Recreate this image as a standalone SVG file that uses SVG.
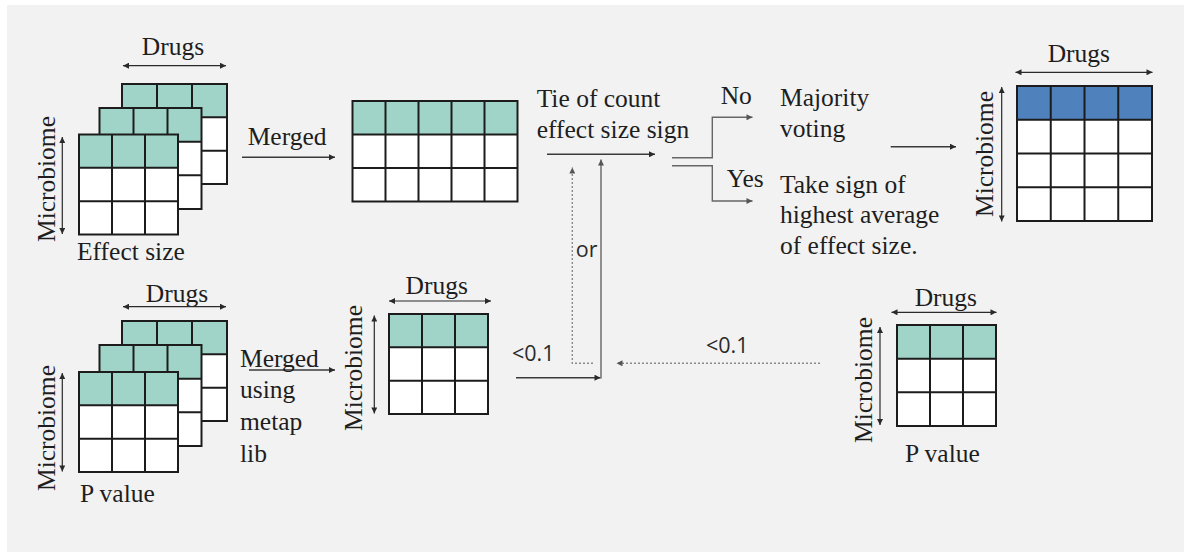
<svg xmlns="http://www.w3.org/2000/svg" width="1184" height="552" viewBox="0 0 1184 552">
  <defs>
    <marker id="tip" viewBox="0 0 10 10" refX="10" refY="5" markerWidth="8" markerHeight="6" markerUnits="userSpaceOnUse" orient="auto-start-reverse">
      <path d="M0,0 L10,5 L0,10 z" fill="#2a2a2a"/>
    </marker>
    <marker id="tipGray" viewBox="0 0 10 10" refX="10" refY="5" markerWidth="8" markerHeight="6" markerUnits="userSpaceOnUse" orient="auto-start-reverse">
      <path d="M0,0 L10,5 L0,10 z" fill="#555"/>
    </marker>
  </defs>
  <style>
    .serif { font-family: "Liberation Serif", "Times New Roman", serif; font-size: 25.5px; fill: #1e1e1e; }
    .sans { font-family: "Open Sans", "Liberation Sans", sans-serif; font-size: 21.5px; fill: #2a2a2a; }
    .head { fill: #a0d4c8; }
    .headBlue { fill: #4f81bd; }
    .body { fill: #ffffff; }
    .grid { fill: none; stroke: #1c1c1c; stroke-width: 2; }
    .axis { fill: none; stroke: #2a2a2a; stroke-width: 1.2; marker-start: url(#tip); marker-end: url(#tip); }
    .flow { fill: none; stroke: #3a3a3a; stroke-width: 1.4; }
    .branch { fill: none; stroke: #666; stroke-width: 1.4; }
    .dotted { fill: none; stroke: #8a8a8a; stroke-width: 1.4; stroke-dasharray: 2 2; }
  </style>

  <rect x="0" y="0" width="1184" height="552" fill="#ffffff"/>
  <rect x="7" y="5" width="1177" height="547" fill="#f2f2f2"/>

  <!-- effect size stack -->
  <g id="effect-stack">
    <g>
      <rect class="head" x="122" y="84" width="105" height="33.3"/>
      <rect class="body" x="122" y="117.3" width="105" height="66.7"/>
      <path class="grid" d="M157,84V184M192,84V184M122,117.3H227M122,150.7H227"/>
      <rect class="grid" x="122" y="84" width="105" height="100"/>
    </g>
    <g>
      <rect class="head" x="99.5" y="108" width="102" height="33.7"/>
      <rect class="body" x="99.5" y="141.7" width="102" height="67.3"/>
      <path class="grid" d="M133.5,108V209M167.5,108V209M99.5,141.7H201.5M99.5,175.3H201.5"/>
      <rect class="grid" x="99.5" y="108" width="102" height="101"/>
    </g>
    <g>
      <rect class="head" x="79" y="134.5" width="99" height="33.3"/>
      <rect class="body" x="79" y="167.8" width="99" height="66.7"/>
      <path class="grid" d="M112,134.5V234.5M145,134.5V234.5M79,167.8H178M79,201.2H178"/>
      <rect class="grid" x="79" y="134.5" width="99" height="100"/>
    </g>
    <text class="serif" x="173" y="55" text-anchor="middle">Drugs</text>
    <path class="axis" d="M123,65.7H226"/>
    <text class="serif" transform="translate(55,179) rotate(-90)" text-anchor="middle">Microbiome</text>
    <path class="axis" d="M62.3,137V234"/>
    <text class="serif" x="77" y="260">Effect size</text>
  </g>

  <!-- p value stack -->
  <g id="pvalue-stack">
    <g>
      <rect class="head" x="122" y="321" width="105" height="33.3"/>
      <rect class="body" x="122" y="354.3" width="105" height="66.7"/>
      <path class="grid" d="M157,321V421M192,321V421M122,354.3H227M122,387.7H227"/>
      <rect class="grid" x="122" y="321" width="105" height="100"/>
    </g>
    <g>
      <rect class="head" x="99.5" y="345" width="102" height="33.7"/>
      <rect class="body" x="99.5" y="378.7" width="102" height="67.3"/>
      <path class="grid" d="M133.5,345V446M167.5,345V446M99.5,378.7H201.5M99.5,412.3H201.5"/>
      <rect class="grid" x="99.5" y="345" width="102" height="101"/>
    </g>
    <g>
      <rect class="head" x="79" y="372" width="99" height="33.3"/>
      <rect class="body" x="79" y="405.3" width="99" height="66.7"/>
      <path class="grid" d="M112,372V472M145,372V472M79,405.3H178M79,438.7H178"/>
      <rect class="grid" x="79" y="372" width="99" height="100"/>
    </g>
    <text class="serif" x="177" y="301.7" text-anchor="middle">Drugs</text>
    <path class="axis" d="M123,306.7H226"/>
    <text class="serif" transform="translate(55,428) rotate(-90)" text-anchor="middle">Microbiome</text>
    <path class="axis" d="M62.3,373V471.5"/>
    <text class="serif" x="80" y="501.7">P value</text>
  </g>

  <!-- merged effect size table -->
  <g id="merged-effect">
    <rect class="head" x="352.5" y="101" width="165" height="33.5"/>
    <rect class="body" x="352.5" y="134.5" width="165" height="67"/>
    <path class="grid" d="M385.5,101V201.5M418.5,101V201.5M451.5,101V201.5M484.5,101V201.5M352.5,134.5H517.5M352.5,168H517.5"/>
    <rect class="grid" x="352.5" y="101" width="165" height="100.5"/>
  </g>

  <!-- merged p value table -->
  <g id="merged-pvalue">
    <rect class="head" x="389" y="314" width="99" height="33.3"/>
    <rect class="body" x="389" y="347.3" width="99" height="66.7"/>
    <path class="grid" d="M422,314V414M455,314V414M389,347.3H488M389,380.7H488"/>
    <rect class="grid" x="389" y="314" width="99" height="100"/>
    <text class="serif" x="436.7" y="294" text-anchor="middle">Drugs</text>
    <path class="axis" d="M389,301H491"/>
    <text class="serif" transform="translate(362,368) rotate(-90)" text-anchor="middle">Microbiome</text>
    <path class="axis" d="M374.3,315.5V413.5"/>
  </g>

  <!-- single p value table -->
  <g id="pvalue-single">
    <rect class="head" x="897" y="325" width="99" height="33.7"/>
    <rect class="body" x="897" y="358.7" width="99" height="67.3"/>
    <path class="grid" d="M930,325V426M963,325V426M897,358.7H996M897,392.3H996"/>
    <rect class="grid" x="897" y="325" width="99" height="101"/>
    <text class="serif" x="945.8" y="306" text-anchor="middle">Drugs</text>
    <path class="axis" d="M891.5,312.3H996.5"/>
    <text class="serif" transform="translate(872,380) rotate(-90)" text-anchor="middle">Microbiome</text>
    <path class="axis" d="M880,327V425"/>
    <text class="serif" x="905" y="461.7">P value</text>
  </g>

  <!-- result table -->
  <g id="result">
    <rect class="headBlue" x="1017" y="86" width="135" height="33.75"/>
    <rect class="body" x="1017" y="119.75" width="135" height="101.25"/>
    <path class="grid" d="M1050.75,86V221M1084.5,86V221M1118.25,86V221M1017,119.75H1152M1017,153.5H1152M1017,187.25H1152"/>
    <rect class="grid" x="1017" y="86" width="135" height="135"/>
    <text class="serif" x="1078.8" y="61.7" text-anchor="middle">Drugs</text>
    <path class="axis" d="M1015.5,72.3H1152.5"/>
    <text class="serif" transform="translate(993,154) rotate(-90)" text-anchor="middle">Microbiome</text>
    <path class="axis" d="M1001.7,87V221.5"/>
  </g>

  <!-- decision step -->
  <g id="tie-check">
    <text class="serif" x="536.7" y="106.7">Tie of count</text>
    <text class="serif" x="536.7" y="138">effect size sign</text>
  </g>
  <g id="majority">
    <text class="serif" x="780" y="106">Majority</text>
    <text class="serif" x="780" y="137">voting</text>
  </g>
  <g id="highest-average">
    <text class="serif" x="780" y="192.7">Take sign of</text>
    <text class="serif" x="780" y="223.3">highest average</text>
    <text class="serif" x="780" y="254">of effect size.</text>
  </g>

  <!-- connectors -->
  <g id="connectors">
    <path class="flow" d="M242,157.3H335" marker-end="url(#tip)"/>
    <text class="serif" x="247.7" y="145">Merged</text>

    <path class="flow" d="M249,370H335" marker-end="url(#tip)"/>
    <text class="serif" x="240" y="366.7">Merged</text>
    <text class="serif" x="240" y="398">using</text>
    <text class="serif" x="240" y="430">metap</text>
    <text class="serif" x="240" y="461.7">lib</text>

    <path class="flow" d="M547,154.3H655" marker-end="url(#tip)"/>

    <path class="flow" d="M516,377.7H600.5" marker-end="url(#tip)"/>
    <path class="branch" d="M601,378.4V159.5" marker-end="url(#tipGray)"/>
    <text class="sans" x="512" y="361">&lt;0.1</text>

    <path class="dotted" d="M820,363.3H616.5" marker-end="url(#tipGray)"/>
    <text class="sans" x="706" y="353.3">&lt;0.1</text>
    <path class="dotted" d="M593,363.3H572.3V167.5" marker-end="url(#tipGray)"/>
    <text class="sans" x="586.7" y="256.7" text-anchor="middle">or</text>

    <path class="branch" d="M672,157.7H712.3V117.3H752.5" marker-end="url(#tipGray)"/>
    <path class="branch" d="M672,165.7H712.3V201H752.5" marker-end="url(#tipGray)"/>
    <text class="serif" x="720.7" y="104">No</text>
    <text class="serif" x="726.7" y="187.3">Yes</text>

    <path class="flow" d="M890.7,146.7H956" marker-end="url(#tip)"/>
  </g>
</svg>
